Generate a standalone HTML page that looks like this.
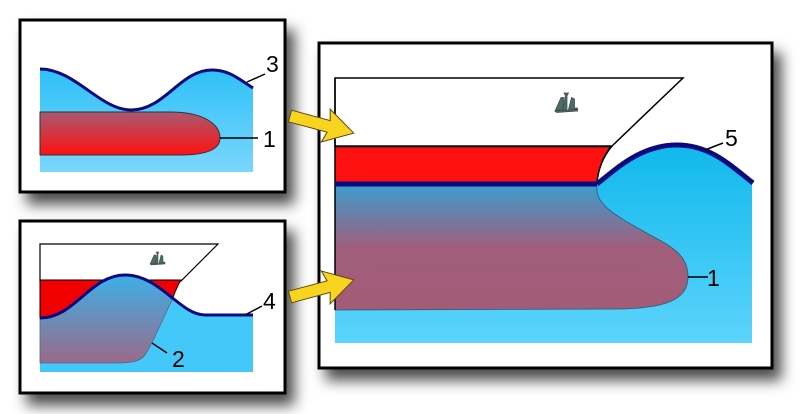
<!DOCTYPE html>
<html><head><meta charset="utf-8"><style>html,body{margin:0;padding:0;background:#fff;}svg{display:block;}</style></head><body>
<svg width="800" height="414" viewBox="0 0 800 414" xmlns="http://www.w3.org/2000/svg" font-family="Liberation Sans, sans-serif">
<defs>
<filter id="sh" x="-10%" y="-10%" width="130%" height="140%"><feDropShadow dx="8" dy="11" stdDeviation="7" flood-color="#000" flood-opacity="0.7"/></filter>
<linearGradient id="w1" x1="0" y1="0" x2="0" y2="1"><stop offset="0" stop-color="#2ec0f8"/><stop offset="1" stop-color="#7ad6fc"/></linearGradient>
<linearGradient id="r1" x1="0" y1="0" x2="0" y2="1"><stop offset="0" stop-color="#a85a70"/><stop offset="1" stop-color="#ff1010"/></linearGradient>
<linearGradient id="p2" x1="0" y1="0" x2="0" y2="1"><stop offset="0" stop-color="#3cb0e8"/><stop offset="1" stop-color="#9a6a88"/></linearGradient>
<linearGradient id="w3" x1="0" y1="0" x2="0" y2="1"><stop offset="0" stop-color="#10b8ec"/><stop offset="1" stop-color="#5cd4fc"/></linearGradient>
<linearGradient id="p3" x1="0" y1="0" x2="0" y2="1"><stop offset="0" stop-color="#3e9ccc"/><stop offset="0.5" stop-color="#a05e7a"/><stop offset="1" stop-color="#a25c78"/></linearGradient>
<g id="icon" fill="#4e6a66" stroke="#3a4e4c" stroke-width="0.5"><path d="M0 12 L4 3 L6 3 L5 11 Z"/><path d="M5 12 L7 2 L6 0 L9 0 L8 2 L8 11 Z"/><path d="M9 11 L11 3 L13 4 L13 10 L15 10 L15 11 Z"/><path d="M0 12 L15 11 L15 12 L1 13 Z"/></g>
<g id="arr"><polygon points="0,-6 40,-6 37,-17 66,0 37,17 40,6 0,6" fill="#f8d420" stroke="#5a4a10" stroke-width="1"/></g>
</defs>

<!-- panel 1 -->
<rect x="20" y="20" width="265" height="172" fill="#fff" stroke="#000" stroke-width="3" filter="url(#sh)"/>
<path d="M40 69 C75 69 100 110 131 110 C165 110 180 70 212 70 C230 70 240 80 253 88 L253 172 L40 172 Z" fill="url(#w1)"/>
<path d="M40 69 C75 69 100 110 131 110 C165 110 180 70 212 70 C230 70 240 80 253 88" fill="none" stroke="#0a0a80" stroke-width="3"/>
<path d="M40 112 L170 112 C205 112 220 125 220 138 C220 150 205 155 180 155 L40 155 Z" fill="url(#r1)" stroke="#333" stroke-width="1"/>
<line x1="220" y1="138" x2="258" y2="138" stroke="#000" stroke-width="1.5"/>
<text x="263" y="147" font-size="23">1</text>
<line x1="247" y1="82" x2="265" y2="74" stroke="#000" stroke-width="1.5"/>
<text x="266" y="72" font-size="23">3</text>

<!-- panel 2 -->
<rect x="20" y="221" width="265" height="172" fill="#fff" stroke="#000" stroke-width="3" filter="url(#sh)"/>
<path d="M40 244 L218 244 L181 281 L40 281 Z" fill="#fff" stroke="#000" stroke-width="1.2"/>
<path d="M40 280 L181 280 C176 288 174 295 172 300 L40 318 Z" fill="#f00000" stroke="#000" stroke-width="1"/>
<path d="M40 318 C75 318 90 275 125 275 C160 275 180 315 205 315 L253 315 L253 372 L40 372 Z" fill="#44c8fa"/>
<path d="M40 318 C75 318 90 275 125 275 C150 275 165 290 172 300 C160 325 152 345 145 355 C140 362 130 363 115 363 L40 363 Z" fill="url(#p2)" stroke="#4a6a88" stroke-width="0.8"/>
<path d="M40 318 C75 318 90 275 125 275 C160 275 180 315 205 315 L253 315" fill="none" stroke="#0a0a80" stroke-width="3"/>
<use href="#icon" x="150" y="252"/>
<line x1="152" y1="343" x2="167" y2="353" stroke="#000" stroke-width="1.5"/>
<text x="172" y="367" font-size="23">2</text>
<line x1="245" y1="315" x2="262" y2="306" stroke="#000" stroke-width="1.5"/>
<text x="263" y="309" font-size="23">4</text>

<!-- panel 3 -->
<rect x="319" y="43" width="453" height="325" fill="#fff" stroke="#000" stroke-width="3" filter="url(#sh)"/>
<path d="M335 78 L683 78 L612 146 L335 146 Z" fill="#fff" stroke="#000" stroke-width="1.5"/>
<path d="M335 147 L610 147 C602 158 598 170 597 183 L335 183 Z" fill="#ff1010" stroke="#222" stroke-width="1"/>
<path d="M612 146 C602 158 598 170 597 183" fill="none" stroke="#000" stroke-width="1.5"/>
<path d="M335 310 L335 343 L752 343 L752 183 C730 165 710 145 677 145 C640 145 615 170 597 184 L335 184 Z" fill="url(#w3)"/>
<path d="M335 186 L597 186 C595 205 615 215 650 235 C680 250 688 260 688 277 C688 300 665 308 620 309 L335 310 Z" fill="url(#p3)" stroke="#2a5a78" stroke-width="0.8"/>
<line x1="335" y1="78" x2="335" y2="310" stroke="#000" stroke-width="1.5"/>
<line x1="335" y1="184" x2="597" y2="184" stroke="#0a0a80" stroke-width="5"/>
<path d="M597 184 C615 170 640 145 677 145 C710 145 730 165 753 183" fill="none" stroke="#0a0a80" stroke-width="5"/>
<use href="#icon" transform="translate(555,93) scale(1.5)"/>
<line x1="705" y1="150" x2="723" y2="143" stroke="#000" stroke-width="1.5"/>
<text x="725" y="146" font-size="23">5</text>
<line x1="688" y1="277" x2="708" y2="277" stroke="#000" stroke-width="1.5"/>
<text x="707" y="286" font-size="23">1</text>

<!-- arrows -->
<use href="#arr" transform="translate(290,116) rotate(15)"/>
<use href="#arr" transform="translate(290,297) rotate(-15)"/>
</svg>
</body></html>
